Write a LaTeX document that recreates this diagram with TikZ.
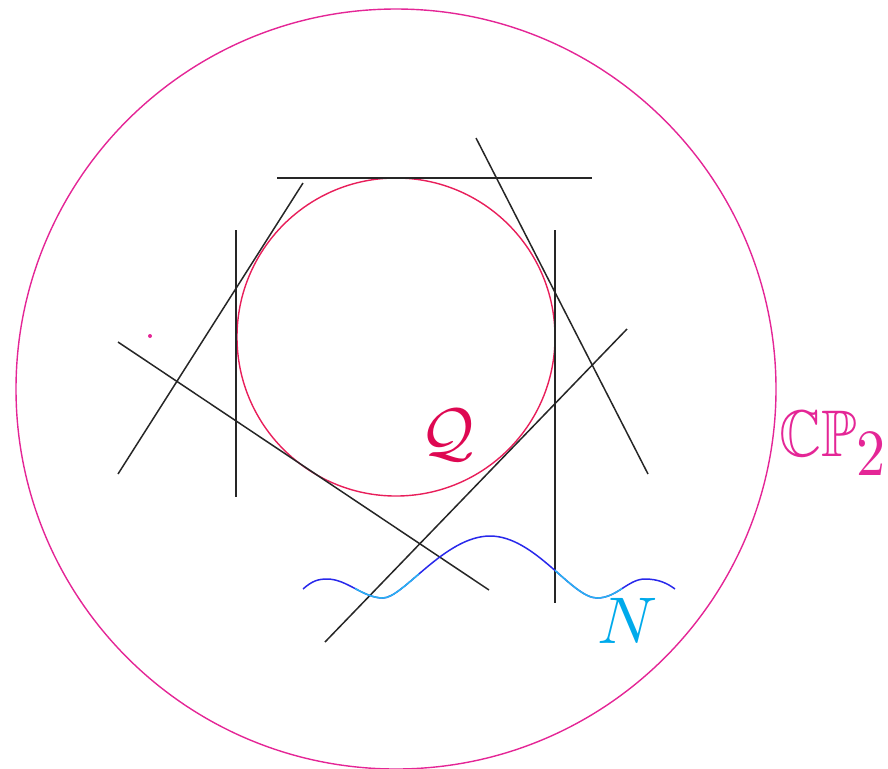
\documentclass[tikz,border=0pt]{standalone}
\usepackage{amssymb}
\definecolor{bigc}{RGB}{228,38,150}
\definecolor{qcirc}{RGB}{232,30,90}
\definecolor{qlab}{RGB}{222,8,82}
\definecolor{wdark}{RGB}{40,40,235}
\definecolor{wlight}{RGB}{40,178,240}
\definecolor{nlab}{RGB}{0,170,235}
\begin{document}
\begin{tikzpicture}[x=0.5pt,y=-0.5pt,
  tline/.style={black!85,line width=0.75pt},
  wave/.style={line width=0.75pt},
  lab/.style={inner sep=0pt,scale=3.3}]
\useasboundingbox (0,0) rectangle (888,768);
% big circle CP2
\coordinate (O) at (396,389);
\draw[bigc,line width=0.7pt] (O) circle[radius=190pt];
% conic Q
\coordinate (C) at (396,337);
\draw[qcirc,line width=0.7pt] (C) circle[radius=79.5pt];
% tangent lines
\coordinate (t1) at (277,178); \coordinate (t2) at (592,178);
\coordinate (l1) at (236,230); \coordinate (l2) at (236,497);
\coordinate (r1) at (555,230); \coordinate (r2) at (555,603);
\coordinate (a1) at (303,183); \coordinate (a2) at (118,474);
\coordinate (b1) at (476,138); \coordinate (b2) at (648,474);
\coordinate (c1) at (118,342); \coordinate (c2) at (489,590);
\coordinate (d1) at (627,329); \coordinate (d2) at (325,642);
\draw[tline] (t1) -- (t2);
\draw[tline] (l1) -- (l2);
\draw[tline] (r1) -- (r2);
\draw[tline] (a1) -- (a2);
\draw[tline] (b1) -- (b2);
\draw[tline] (c1) -- (c2);
\draw[tline] (d1) -- (d2);
% small dot
\fill[bigc] (150,336) circle[radius=1pt];
% wave N
\def\wavepath{(303,589) .. controls (312,581) and (318,579) .. (327,579)
 .. controls (347,579) and (363,598) .. (383,598)
 .. controls (403,598) and (445,536) .. (490,536)
 .. controls (535,536) and (572,598) .. (597,598)
 .. controls (617,598) and (628,579) .. (645,579)
 .. controls (658,579) and (667,583) .. (675,589)}
\draw[wave,wdark] \wavepath;
\begin{scope}
\clip (355,500) rectangle (419,620) (555,500) rectangle (622,620);
\draw[wave,wlight] \wavepath;
\end{scope}
% labels
\node[lab,text=qlab,anchor=base] (Q) at (447,454) {$\mathcal{Q}$};
\node[lab,text=nlab,anchor=base] (N) at (628,643) {$N$};
\node[lab,text=bigc,anchor=base west,xscale=0.88] (CP) at (778,456) {$\mathbb{CP}_{\textstyle 2}$};
\end{tikzpicture}
\end{document}
